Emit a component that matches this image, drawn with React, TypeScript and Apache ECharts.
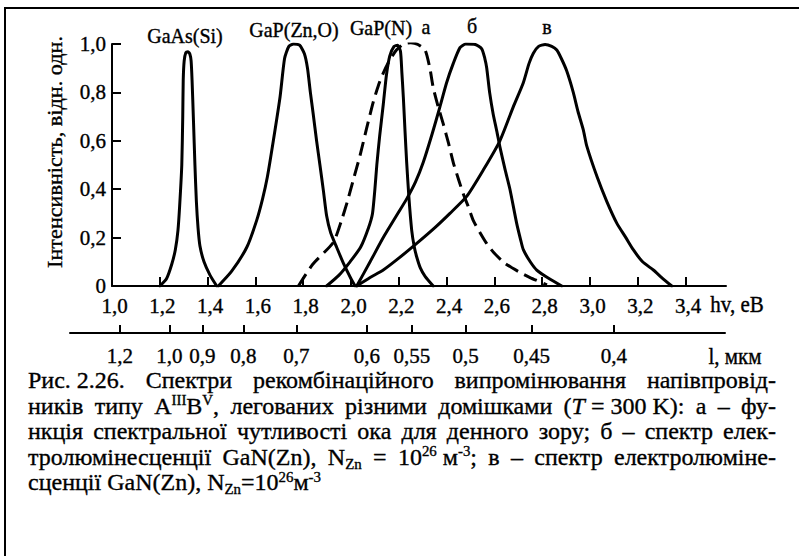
import React, { useEffect, useRef } from 'react';
import * as echarts from 'echarts';

const W = 799;
const H = 556;
const FONT = "'Liberation Serif', 'Times New Roman', serif";

// ---- axis values ----
const energyTicks = [1.0, 1.2, 1.4, 1.6, 1.8, 2.0, 2.2, 2.4, 2.6, 2.8, 3.0, 3.2, 3.4];
const intensityTicks = [0, 0.2, 0.4, 0.6, 0.8, 1.0];
const wavelengthTicks = [1.2, 1.0, 0.9, 0.8, 0.7, 0.6, 0.55, 0.5, 0.45, 0.4];
const HC = 1.24; // eV * µm

// ---- spectra: [photon energy, eV ; relative intensity] ----
const gaAsSi: number[][] = [
  [1.2, 0], [1.228, 0.03], [1.25, 0.09], [1.265, 0.15], [1.276, 0.23], [1.283, 0.33],
  [1.292, 0.5], [1.296, 0.7], [1.298, 0.85], [1.302, 0.93], [1.309, 0.965], [1.318, 0.968],
  [1.326, 0.958], [1.331, 0.93], [1.335, 0.85], [1.341, 0.68], [1.347, 0.5], [1.353, 0.35],
  [1.36, 0.24], [1.368, 0.165], [1.385, 0.1], [1.41, 0.045], [1.438, 0],
];
const gaPZnO: number[][] = [
  [1.445, 0], [1.5, 0.06], [1.564, 0.16], [1.605, 0.27], [1.63, 0.36], [1.65, 0.45],
  [1.675, 0.6], [1.703, 0.78], [1.722, 0.94], [1.74, 0.99], [1.76, 1.0], [1.785, 0.995],
  [1.805, 0.96], [1.818, 0.9], [1.83, 0.8], [1.842, 0.71], [1.856, 0.6], [1.87, 0.5],
  [1.885, 0.39], [1.898, 0.29], [1.915, 0.22], [1.94, 0.16], [1.97, 0.09], [2.0, 0.03], [2.017, 0],
];
const gaPN: number[][] = [
  [1.898, 0], [1.95, 0.045], [1.996, 0.1], [2.04, 0.16], [2.073, 0.24], [2.09, 0.3],
  [2.1, 0.4], [2.108, 0.5], [2.12, 0.62], [2.135, 0.75], [2.148, 0.87], [2.162, 0.95],
  [2.18, 0.99], [2.195, 0.995], [2.207, 0.97], [2.213, 0.88], [2.219, 0.78], [2.226, 0.64],
  [2.233, 0.51], [2.242, 0.37], [2.254, 0.23], [2.265, 0.16], [2.275, 0.12], [2.29, 0.075],
  [2.31, 0.04], [2.344, 0],
];
const eyeA: number[][] = [
  [1.78, 0], [1.84, 0.09], [1.926, 0.18], [1.96, 0.27], [1.985, 0.35], [2.01, 0.44],
  [2.038, 0.54], [2.065, 0.65], [2.093, 0.76], [2.115, 0.83], [2.135, 0.88], [2.16, 0.93],
  [2.19, 0.975], [2.22, 1.0], [2.25, 1.005], [2.28, 0.998], [2.31, 0.975], [2.33, 0.9],
  [2.344, 0.82], [2.365, 0.74], [2.386, 0.67], [2.408, 0.59], [2.428, 0.51], [2.45, 0.44],
  [2.47, 0.38], [2.49, 0.33], [2.512, 0.27], [2.54, 0.22], [2.568, 0.175], [2.6, 0.135],
  [2.644, 0.094], [2.7, 0.06], [2.749, 0.035], [2.82, 0.005],
];
const specB: number[][] = [
  [2.024, 0], [2.08, 0.1], [2.135, 0.2], [2.19, 0.29], [2.233, 0.36], [2.27, 0.43],
  [2.302, 0.51], [2.34, 0.63], [2.372, 0.74], [2.4, 0.84], [2.428, 0.92], [2.456, 0.985],
  [2.48, 1.0], [2.52, 0.998], [2.547, 0.98], [2.56, 0.94], [2.568, 0.9], [2.58, 0.8],
  [2.595, 0.71], [2.61, 0.64], [2.623, 0.575], [2.645, 0.48], [2.665, 0.4], [2.693, 0.26],
  [2.71, 0.19], [2.721, 0.15], [2.75, 0.1], [2.777, 0.066], [2.83, 0.03], [2.882, 0],
];
const specV: number[][] = [
  [2.024, 0], [2.08, 0.035], [2.135, 0.066], [2.2, 0.115], [2.275, 0.176], [2.35, 0.24],
  [2.414, 0.3], [2.484, 0.37], [2.554, 0.48], [2.623, 0.6], [2.679, 0.74], [2.721, 0.84],
  [2.745, 0.92], [2.763, 0.962], [2.785, 0.99], [2.812, 0.998], [2.84, 0.99], [2.861, 0.975],
  [2.88, 0.94], [2.902, 0.89], [2.93, 0.8], [2.95, 0.72], [2.972, 0.645], [2.986, 0.58],
  [3.03, 0.45], [3.07, 0.35], [3.112, 0.26], [3.15, 0.2], [3.181, 0.15], [3.22, 0.1],
  [3.265, 0.066], [3.3, 0.035], [3.342, 0],
];

// ---- texts ----
const curveLabels = ['GaAs(Si)', 'GaP(Zn,O)', 'GaP(N)', 'а', 'б', 'в'];
const yTitle = 'Інтенсивність, відн. одн.';
const xTitle = 'hv, еВ';
const lambdaTitle = 'l, мкм';
const captionLines = [
  'Рис.~2.26. Спектри рекомбінаційного випромінювання напівпровід-',
  'ників типу A^{III}B^{V}, легованих різними домішками (*T*~=~300~K): а – фу-',
  'нкція спектральної чутливості ока для денного зору; б – спектр елек-',
  'тролюмінесценції GaN(Zn), N_{Zn} = 10^{26}~м^{-3}; в – спектр електролюміне-',
  'сценції GaN(Zn), N_{Zn}=10^{26}м^{-3}',
];

// ---- layout ----
const X0 = 112; // px of 1.0 eV
const PX = 239; // px per eV
const PLOT_W = 614;
const GRID_TOP = 44;
const GRID_H = 242;
const SY = 1.1;
const INK = 0.35; // slight stroke to mimic the printed weight

let ctx: CanvasRenderingContext2D | null = null;
function measure(text: string, size: number, italic = false): number {
  if (!ctx) ctx = document.createElement('canvas').getContext('2d');
  ctx!.font = `${italic ? 'italic ' : ''}${size}px ${FONT}`;
  return ctx!.measureText(text).width;
}

type Seg = { t: string; k: 'n' | 'sup' | 'sub' | 'i' };
function parseWord(w: string): Seg[] {
  const segs: Seg[] = [];
  const re = /\^\{([^}]*)\}|_\{([^}]*)\}|\*([^*]*)\*|([^^_*]+)/g;
  let m: RegExpExecArray | null;
  while ((m = re.exec(w))) {
    if (m[1] !== undefined) segs.push({ t: m[1], k: 'sup' });
    else if (m[2] !== undefined) segs.push({ t: m[2], k: 'sub' });
    else if (m[3] !== undefined) segs.push({ t: m[3], k: 'i' });
    else segs.push({ t: m[4].replace(/~/g, ' '), k: 'n' });
  }
  return segs;
}

const CAP_LEFT = 28;
const CAP_RIGHT = 776;

function captionGraphics(): any[] {
  const parsed = captionLines.map((line) => line.split(' ').map(parseWord));
  const sizeOf = (s: Seg, cap: number) => (s.k === 'sup' || s.k === 'sub' ? cap * 0.62 : cap);
  const wOf = (s: Seg, cap: number) => measure(s.t, sizeOf(s, cap), s.k === 'i');
  // largest font size for which every justified line still fits with normal spaces
  let cap = 24;
  parsed.slice(0, parsed.length - 1).forEach((words) => {
    const nat = words.reduce((a, ws) => a + ws.reduce((b, s) => b + wOf(s, 100), 0), 0) +
      (words.length - 1) * measure(' ', 100);
    cap = Math.min(cap, (100 * (CAP_RIGHT - CAP_LEFT)) / nat);
  });
  cap = Math.floor(cap * 10) / 10;
  const out: any[] = [];
  const base0 = 388.5;
  const lead = 25.5;
  parsed.forEach((words, li) => {
    const total = words.reduce((a, ws) => a + ws.reduce((b, s) => b + wOf(s, cap), 0), 0);
    const justify = li < parsed.length - 1;
    const gap = justify ? (CAP_RIGHT - CAP_LEFT - total) / (words.length - 1) : measure(' ', cap);
    const baseline = base0 + li * lead;
    let x = CAP_LEFT;
    words.forEach((ws) => {
      ws.forEach((s) => {
        const size = sizeOf(s, cap);
        const dy = s.k === 'sup' ? -0.37 * cap : s.k === 'sub' ? 0.15 * cap : 0;
        out.push({
          type: 'text',
          x,
          y: baseline + dy - 0.3375 * size,
          style: {
            text: s.t,
            fill: '#000',
            stroke: '#000',
            lineWidth: INK,
            fontSize: size,
            fontFamily: FONT,
            fontStyle: s.k === 'i' ? 'italic' : 'normal',
            align: 'left',
            verticalAlign: 'middle',
          },
        });
        x += wOf(s, cap);
      });
      x += gap;
    });
  });
  return out;
}

const fmt1 = (v: number) => (Math.abs(v) < 1e-9 ? '0' : v.toFixed(1).replace('.', ','));
const fmtLambda = (v: number) => {
  let best = wavelengthTicks[0];
  wavelengthTicks.forEach((l) => {
    if (Math.abs(HC / l - v) < Math.abs(HC / best - v)) best = l;
  });
  return (Number.isInteger(best) ? best.toFixed(1) : String(best)).replace('.', ',');
};

function textEl(text: string, x: number, y: number, size: number, extra: any = {}) {
  return {
    type: 'text',
    x,
    y,
    scaleY: SY,
    ...extra,
    style: {
      text, fill: '#000', stroke: '#000', lineWidth: INK, fontSize: size, fontFamily: FONT,
      align: 'center', verticalAlign: 'middle',
    },
  };
}

function buildOption(): any {
  const lineBase = { type: 'line', showSymbol: false, smooth: 0.2, xAxisIndex: 0, yAxisIndex: 0, silent: true };
  const ls = { color: '#000', width: 3, cap: 'round', join: 'round' };
  const labelStyle = {
    color: '#000', fontFamily: FONT, fontSize: 21, textBorderColor: '#000', textBorderWidth: INK,
  };
  const labelPos = [
    [185, 36], [294, 30], [381, 28], [426, 27], [472, 26], [547, 27],
  ];
  const yTitleLen = 232;
  const yTitleScale = yTitleLen / measure(yTitle, 20);
  return {
    animation: false,
    backgroundColor: '#fff',
    grid: [
      { left: X0, top: GRID_TOP, width: PLOT_W, height: GRID_H },
      { left: 70, top: 332, width: 655, height: 1 },
    ],
    xAxis: [
      {
        type: 'value', gridIndex: 0, min: 1, max: 1 + PLOT_W / PX,
        axisLine: { show: true, onZero: false, lineStyle: { color: '#000', width: 2 } },
        axisTick: { show: true, inside: true, length: 9, customValues: energyTicks, lineStyle: { color: '#000', width: 2 } },
        axisLabel: { ...labelStyle, customValues: energyTicks, formatter: fmt1, margin: 9, padding: [0, 0, 0, 5] },
        splitLine: { show: false },
      },
      {
        type: 'value', gridIndex: 1, position: 'bottom', min: 1 - (X0 - 70) / PX, max: 1 - (X0 - 70) / PX + 655 / PX,
        axisLine: { show: true, onZero: false, lineStyle: { color: '#000', width: 2 } },
        axisTick: { show: true, inside: true, length: 8, customValues: wavelengthTicks.map((l) => HC / l), lineStyle: { color: '#000', width: 2 } },
        axisLabel: { ...labelStyle, customValues: wavelengthTicks.map((l) => HC / l), formatter: fmtLambda, margin: 12 },
        splitLine: { show: false },
      },
    ],
    yAxis: [
      {
        type: 'value', gridIndex: 0, min: intensityTicks[0], max: intensityTicks[intensityTicks.length - 1], interval: 0.2,
        axisLine: { show: true, onZero: false, lineStyle: { color: '#000', width: 2 } },
        axisTick: { show: true, inside: true, length: 9, lineStyle: { color: '#000', width: 2 } },
        axisLabel: { ...labelStyle, formatter: fmt1, margin: 6 },
        splitLine: { show: false },
      },
      { type: 'value', gridIndex: 1, show: false },
    ],
    series: [
      { ...lineBase, name: 'GaAs(Si)', data: gaAsSi, lineStyle: ls },
      { ...lineBase, name: 'GaP(Zn,O)', data: gaPZnO, lineStyle: ls },
      { ...lineBase, name: 'а', data: eyeA, lineStyle: { ...ls, type: [14, 7], cap: 'butt' } },
      { ...lineBase, name: 'GaP(N)', data: gaPN, lineStyle: ls },
      { ...lineBase, name: 'б', data: specB, lineStyle: ls },
      { ...lineBase, name: 'в', data: specV, lineStyle: ls },
    ],
    graphic: [
      { type: 'line', shape: { x1: 4, y1: 8, x2: W, y2: 8 }, style: { stroke: '#000', lineWidth: 2 } },
      { type: 'line', shape: { x1: 5, y1: 7, x2: 5, y2: H }, style: { stroke: '#000', lineWidth: 2 } },
      ...curveLabels.map((t, i) => textEl(t, labelPos[i][0], labelPos[i][1], 20)),
      {
        type: 'text', x: 55, y: 152, rotation: Math.PI / 2, scaleX: yTitleScale, scaleY: 1.0,
        style: {
          text: yTitle, fill: '#000', stroke: '#000', lineWidth: INK, fontSize: 20, fontFamily: FONT,
          align: 'center', verticalAlign: 'middle',
        },
      },
      textEl(xTitle, 737, 304, 21),
      textEl(lambdaTitle, 735, 356, 21),
      ...captionGraphics(),
    ],
  };
}

export default function App() {
  const ref = useRef<HTMLDivElement>(null);
  useEffect(() => {
    const chart = echarts.init(ref.current!, null, { renderer: 'svg', width: W, height: H });
    chart.setOption(buildOption());
    return () => chart.dispose();
  }, []);
  return (
    <div
      ref={ref}
      style={{ position: 'fixed', left: 0, top: 0, width: W, height: H, background: '#fff' }}
    />
  );
}
